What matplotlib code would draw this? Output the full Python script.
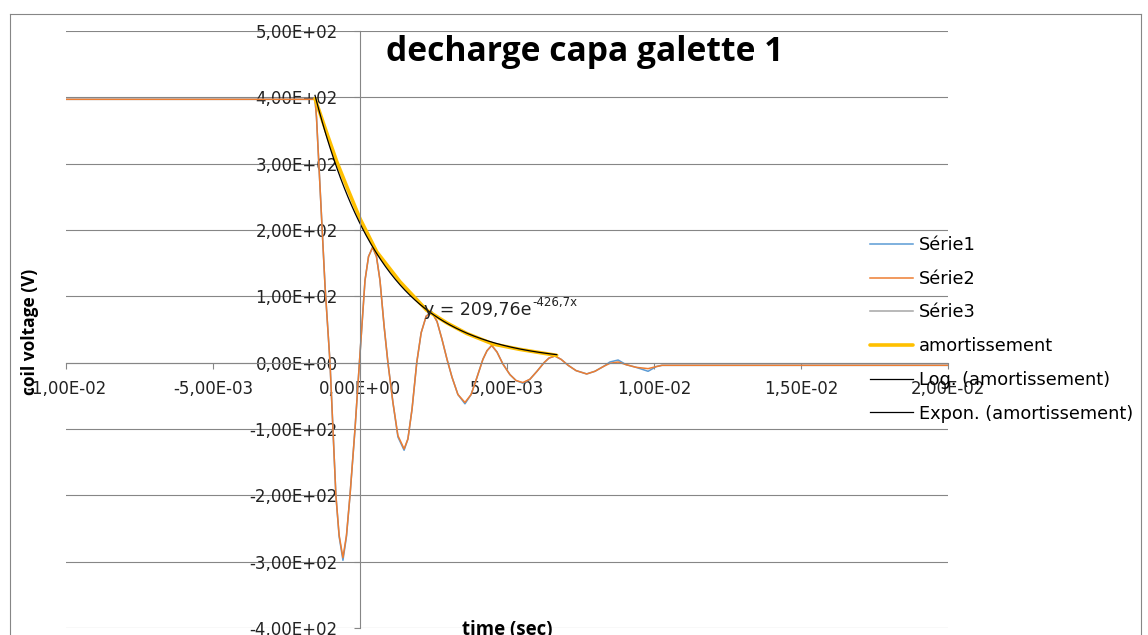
import numpy as np
import matplotlib
matplotlib.use("Agg")
import matplotlib.pyplot as plt
from matplotlib.ticker import FuncFormatter, MultipleLocator
from matplotlib.lines import Line2D

# ---------------- data ----------------
title = "decharge capa galette 1"
x_label = "time (sec)"
y_label = "coil voltage (V)"
legend_names = ["Série1", "Série2", "Série3", "amortissement",
                "Log. (amortissement)", "Expon. (amortissement)"]

time_s = [-0.01, -0.00153, -0.00148, -0.00136, -0.00119, -0.00102, -0.00092,
          -0.00082, -0.00071, -0.00058, -0.00046, -0.00034, -0.00017, -0.00002,
          0.00017, 0.00029, 0.00043, 0.00056, 0.00068, 0.00082, 0.00095,
          0.00112, 0.00129, 0.00150, 0.00163, 0.00177, 0.00193, 0.00208,
          0.00225, 0.00244, 0.00262, 0.00279, 0.00296, 0.00313, 0.00333,
          0.00357, 0.00378, 0.00398, 0.00418, 0.00432, 0.00448, 0.00466,
          0.00486, 0.00510, 0.00531, 0.00554, 0.00578, 0.00602, 0.00626,
          0.00643, 0.00663, 0.00684, 0.00708, 0.00735, 0.00771, 0.00799,
          0.00827, 0.00850, 0.00878, 0.00905, 0.00939, 0.00980, 0.01007,
          0.01027, 0.02]
serie2_v = [397, 397, 370, 265, 116, 0, -100,
            -200, -260, -294, -260, -200, -100, 0,
            124, 160, 174, 160, 124, 55, 0,
            -60, -110, -130, -115, -70, 0, 45,
            70, 76, 62, 35, 5, -22, -48,
            -60, -48, -22, 5, 18, 26, 16,
            -2, -18, -27, -30, -25, -13, 0,
            7, 10, 5, -4, -12, -17, -13,
            -6, -1, 1, -3, -7, -9, -6,
            -4, -4]
serie1_v = [397, 397, 370, 265, 116, 0, -100,
            -200, -262, -298, -262, -200, -100, 0,
            124, 160, 174, 160, 124, 55, 0,
            -60, -112, -132, -115, -70, 0, 45,
            70, 77, 62, 35, 5, -22, -48,
            -62, -48, -22, 5, 18, 26, 16,
            -2, -18, -27, -31, -25, -13, 0,
            7, 10, 5, -4, -12, -17, -13,
            -6, 1, 4, -3, -7, -13, -6,
            -4, -4]

amort_t = [-0.00153, -0.00116, -0.00079, -0.00040, 0.0, 0.00057, 0.00136,
           0.00227, 0.00295, 0.00363, 0.00453, 0.00544, 0.00669]
amort_v = [398, 350, 303, 260, 217, 167, 122, 79, 60, 44, 28, 20, 11]

# displayed exponential trendline  y = a * exp(k * x)
trend_a = 209.76
trend_k = -426.7
equation_main = "y = 209,76e"
equation_sup = "-426,7x"

# ---------------- figure ----------------
W, H = 1148, 635
fig = plt.figure(figsize=(W / 100, H / 100), dpi=100)
ax = fig.add_axes([66 / W, 1 - 628 / H, (948 - 66) / W, (628 - 31) / H])

grid_c = "#868686"
ax.set_xlim(-0.01, 0.02)
ax.set_ylim(-400, 500)
ax.xaxis.set_major_locator(MultipleLocator(0.005))
ax.yaxis.set_major_locator(MultipleLocator(100))
fmt = FuncFormatter(lambda v, p: f"{v:.2E}".replace(".", ","))
ax.xaxis.set_major_formatter(fmt)
ax.yaxis.set_major_formatter(fmt)

ax.grid(axis="y", color=grid_c, lw=0.8)
for gl in ax.get_ygridlines():
    gl.set_clip_on(False)
ax.set_axisbelow(True)
for s in ("top", "right"):
    ax.spines[s].set_visible(False)
ax.spines["left"].set_position(("data", 0))
ax.spines["bottom"].set_position(("data", 0))
for s in ("left", "bottom"):
    ax.spines[s].set_color(grid_c)
    ax.spines[s].set_linewidth(0.8)
ax.tick_params(axis="y", length=4, width=0.8, color=grid_c, pad=12,
               labelsize=12, labelcolor="#222222")
ax.tick_params(axis="x", length=4.5, width=0.8, color=grid_c, pad=8,
               labelsize=12, labelcolor="#222222", direction="out")

# series
l1, = ax.plot(time_s, serie1_v, color="#5B9BD5", lw=1.1, label=legend_names[0])
l2, = ax.plot(time_s, serie2_v, color="#ED7D31", lw=1.1, label=legend_names[1])
l3, = ax.plot([], [], color="#A5A5A5", lw=1.1, label=legend_names[2])
l4, = ax.plot(amort_t, amort_v, color="#FFC000", lw=2.6, label=legend_names[3],
              solid_capstyle="round")
l5, = ax.plot([], [], color="#000000", lw=0.9, label=legend_names[4])

# exponential trendline over the envelope's range
tt = np.linspace(min(amort_t), max(amort_t), 200)
l6, = ax.plot(tt, trend_a * np.exp(trend_k * tt), color="#000000", lw=0.9,
              label=legend_names[5])

# trendline equation
eq = ax.text(0.00218, 79, equation_main, fontsize=12.5, va="center", ha="left",
             color="#222222")
fig.canvas.draw()
bb = eq.get_window_extent()
fig.text((bb.x1 + 1) / W, (bb.y0 + bb.height * 0.55) / H, equation_sup,
         fontsize=8.5, va="bottom", ha="left", color="#222222")

# title and axis labels
fig.text(585 / W, 1 - 52 / H, title, fontsize=24.2, fontweight="bold",
         family="Open Sans", ha="center", va="center")
fig.text(507 / W, 1 - 630 / H, x_label, fontsize=13.4, fontweight="bold",
         family="Open Sans", ha="center", va="center")
fig.text(30 / W, 1 - 332 / H, y_label, fontsize=12.5, fontweight="bold",
         family="Open Sans", ha="center", va="center", rotation=90)

# legend
fig.legend([l1, l2, l3, l4, l5, l6], legend_names, loc="upper left",
           bbox_to_anchor=(870 / W, 1 - 236 / H), bbox_transform=fig.transFigure,
           frameon=False, borderpad=0, borderaxespad=0, handlelength=2.42,
           handletextpad=0.34, labelspacing=0.885, fontsize=12.8)

# outer chart frame
for xs, ys in (([9.5, 9.5], [13.5, H]), ([9.5, 1141], [13.5, 13.5]),
               ([1141, 1141], [13.5, H])):
    fig.add_artist(Line2D([x / W for x in xs], [1 - y / H for y in ys],
                          color=grid_c, lw=0.8, transform=fig.transFigure))

fig.savefig("out.png", dpi=100)
